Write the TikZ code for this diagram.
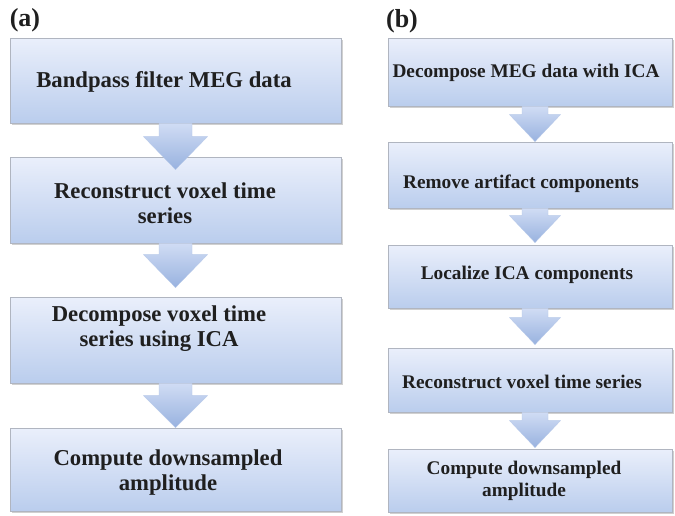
\documentclass[tikz,border=0pt]{standalone}
\usepackage{fontspec}
\setmainfont{Liberation Serif}
\usetikzlibrary{shadows,calc}
\definecolor{boxtop}{RGB}{234,239,251}
\definecolor{boxbot}{RGB}{186,205,237}
\definecolor{boxline}{RGB}{176,181,192}
\definecolor{arrtop}{RGB}{208,220,244}
\definecolor{arrbot}{RGB}{152,178,223}
\newcommand\flowarrow[7]{% from, to, xshift, tip depth, shaft half width, head half width, head length
  \path[arrowshade] let \p1=(#1.south), \p2=(#2.north) in
    (\x1+#3-#5,\y1) -- (\x1+#3+#5,\y1) -- (\x1+#3+#5,\y2-#4+#7) -- (\x1+#3+#6,\y2-#4+#7)
    -- (\x1+#3,\y2-#4) -- (\x1+#3-#6,\y2-#4+#7) -- (\x1+#3-#5,\y2-#4+#7) -- cycle;}
\begin{document}
\begin{tikzpicture}[x=1pt,y=-1pt,
  stepbox/.style={draw=boxline, line width=0.8pt, top color=boxtop, bottom color=boxbot,
    inner sep=0pt, drop shadow={shadow xshift=1.5pt, shadow yshift=-2pt, fill=black!60, opacity=0.3}},
  arrowshade/.style={top color=arrtop, bottom color=arrbot, draw=arrbot!70!white, line width=0.3pt},
  txta/.style={font=\fontsize{22.7}{25}\selectfont\bfseries, align=center, inner sep=0pt, text=black!88},
  txtb/.style={font=\fontsize{19.3}{22}\selectfont\bfseries, align=center, inner sep=0pt, text=black!88},
  paneltag/.style={font=\fontsize{26}{28}\selectfont\bfseries, inner sep=0pt, text=black!88}]
\fill[white] (0,0) rectangle (675,515);
\useasboundingbox (0,0) rectangle (675,515);
% panel labels
\node[paneltag] (la) at (25,20) {(a)};
\node[paneltag] (lb) at (402,21) {(b)};
% panel (a) boxes
\node[stepbox, minimum width=331pt, minimum height=85pt] (a1) at (175.5,80.5) {};
\node[stepbox, minimum width=331pt, minimum height=86pt] (a2) at (175.5,200) {};
\node[stepbox, minimum width=331pt, minimum height=86pt] (a3) at (175.5,340) {};
\node[stepbox, minimum width=331pt, minimum height=83pt] (a4) at (175.5,469.5) {};
% panel (b) boxes
\node[stepbox, minimum width=284pt, minimum height=68pt] (b1) at (530,72) {};
\node[stepbox, minimum width=284pt, minimum height=66pt] (b2) at (530,175) {};
\node[stepbox, minimum width=284pt, minimum height=63pt] (b3) at (530,276.5) {};
\node[stepbox, minimum width=284pt, minimum height=64pt] (b4) at (530,380) {};
\node[stepbox, minimum width=284pt, minimum height=63pt] (b5) at (530,480.5) {};
% arrows
\flowarrow{a1}{a2}{0pt}{13pt}{16.5pt}{32pt}{33pt}
\flowarrow{a2}{a3}{0pt}{-9pt}{16.5pt}{32pt}{33pt}
\flowarrow{a3}{a4}{0pt}{0pt}{16.5pt}{32pt}{32pt}
\flowarrow{b1}{b2}{5pt}{0pt}{13pt}{25.5pt}{27pt}
\flowarrow{b2}{b3}{5pt}{-2pt}{13pt}{25.5pt}{27pt}
\flowarrow{b3}{b4}{5pt}{-3pt}{13pt}{25.5pt}{27pt}
\flowarrow{b4}{b5}{5pt}{-1pt}{13pt}{25.5pt}{27pt}
% texts (a)
\node[txta] (ta1) at (164,82) {Bandpass filter MEG data};
\node[txta] (ta2) at (165,203) {Reconstruct voxel time\\series};
\node[txta] (ta3) at (159,329) {Decompose voxel time\\series using ICA};
\node[txta] (ta4) at (168,473) {Compute downsampled\\amplitude};
% texts (b)
\node[txtb] (tb1) at (526,73) {Decompose MEG data with ICA};
\node[txtb] (tb2) at (521,184) {Remove artifact components};
\node[txtb] (tb3) at (527,275) {Localize ICA components};
\node[txtb] (tb4) at (522,382) {Reconstruct voxel time series};
\node[txtb] (tb5) at (524,481) {Compute downsampled\\amplitude};
\end{tikzpicture}
\end{document}
